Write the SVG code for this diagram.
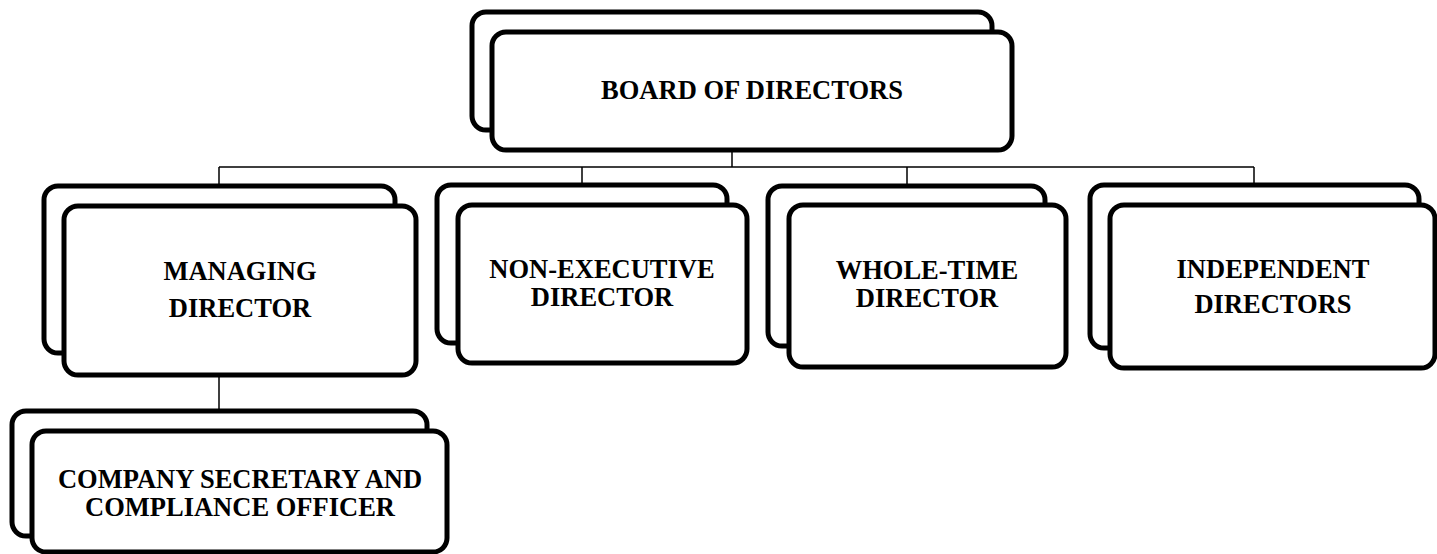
<svg xmlns="http://www.w3.org/2000/svg" width="1437" height="554" viewBox="0 0 1437 554">
<style>
.bx{fill:#fff;stroke:#000;stroke-width:5}
.ln{fill:none;stroke:#000;stroke-width:1.5}
.t{font-family:"Liberation Serif","Times New Roman",serif;font-weight:bold;font-size:26.5px;fill:#000;text-anchor:middle}
</style>
<rect width="1437" height="554" fill="#fff"/>
<g id="connectors">
<path class="ln" d="M732 150V167M219 167H1254M219 167V186M582 167V185M907 167V186M1254 167V185M219 375V411"/>
</g>
<g id="board">
<rect class="bx" x="472" y="12" width="520" height="118" rx="14"/>
<rect class="bx" x="492" y="32" width="520" height="118" rx="14"/>
<text class="t" x="752" y="99">BOARD OF DIRECTORS</text>
</g>
<g id="md">
<rect class="bx" x="44" y="186" width="351" height="167" rx="14"/>
<rect class="bx" x="64" y="206" width="352" height="169" rx="14"/>
<text class="t" x="240" y="280">MANAGING</text>
<text class="t" x="240" y="317">DIRECTOR</text>
</g>
<g id="ned">
<rect class="bx" x="437" y="185" width="290" height="158" rx="14"/>
<rect class="bx" x="458" y="205" width="289" height="158" rx="14"/>
<text class="t" x="602" y="278">NON-EXECUTIVE</text>
<text class="t" x="602" y="306">DIRECTOR</text>
</g>
<g id="wtd">
<rect class="bx" x="768" y="186" width="277" height="160" rx="14"/>
<rect class="bx" x="789" y="205" width="277" height="162" rx="14"/>
<text class="t" x="927" y="279">WHOLE-TIME</text>
<text class="t" x="927" y="307">DIRECTOR</text>
</g>
<g id="id">
<rect class="bx" x="1090" y="185" width="329" height="163" rx="14"/>
<rect class="bx" x="1110" y="205" width="325" height="163" rx="14"/>
<text class="t" x="1273" y="278">INDEPENDENT</text>
<text class="t" x="1273" y="313">DIRECTORS</text>
</g>
<g id="cs">
<rect class="bx" x="12" y="411" width="415" height="125" rx="14"/>
<rect class="bx" x="32" y="431" width="415" height="121" rx="14"/>
<text class="t" x="240" y="488">COMPANY SECRETARY AND</text>
<text class="t" x="240" y="516">COMPLIANCE OFFICER</text>
</g>
</svg>
